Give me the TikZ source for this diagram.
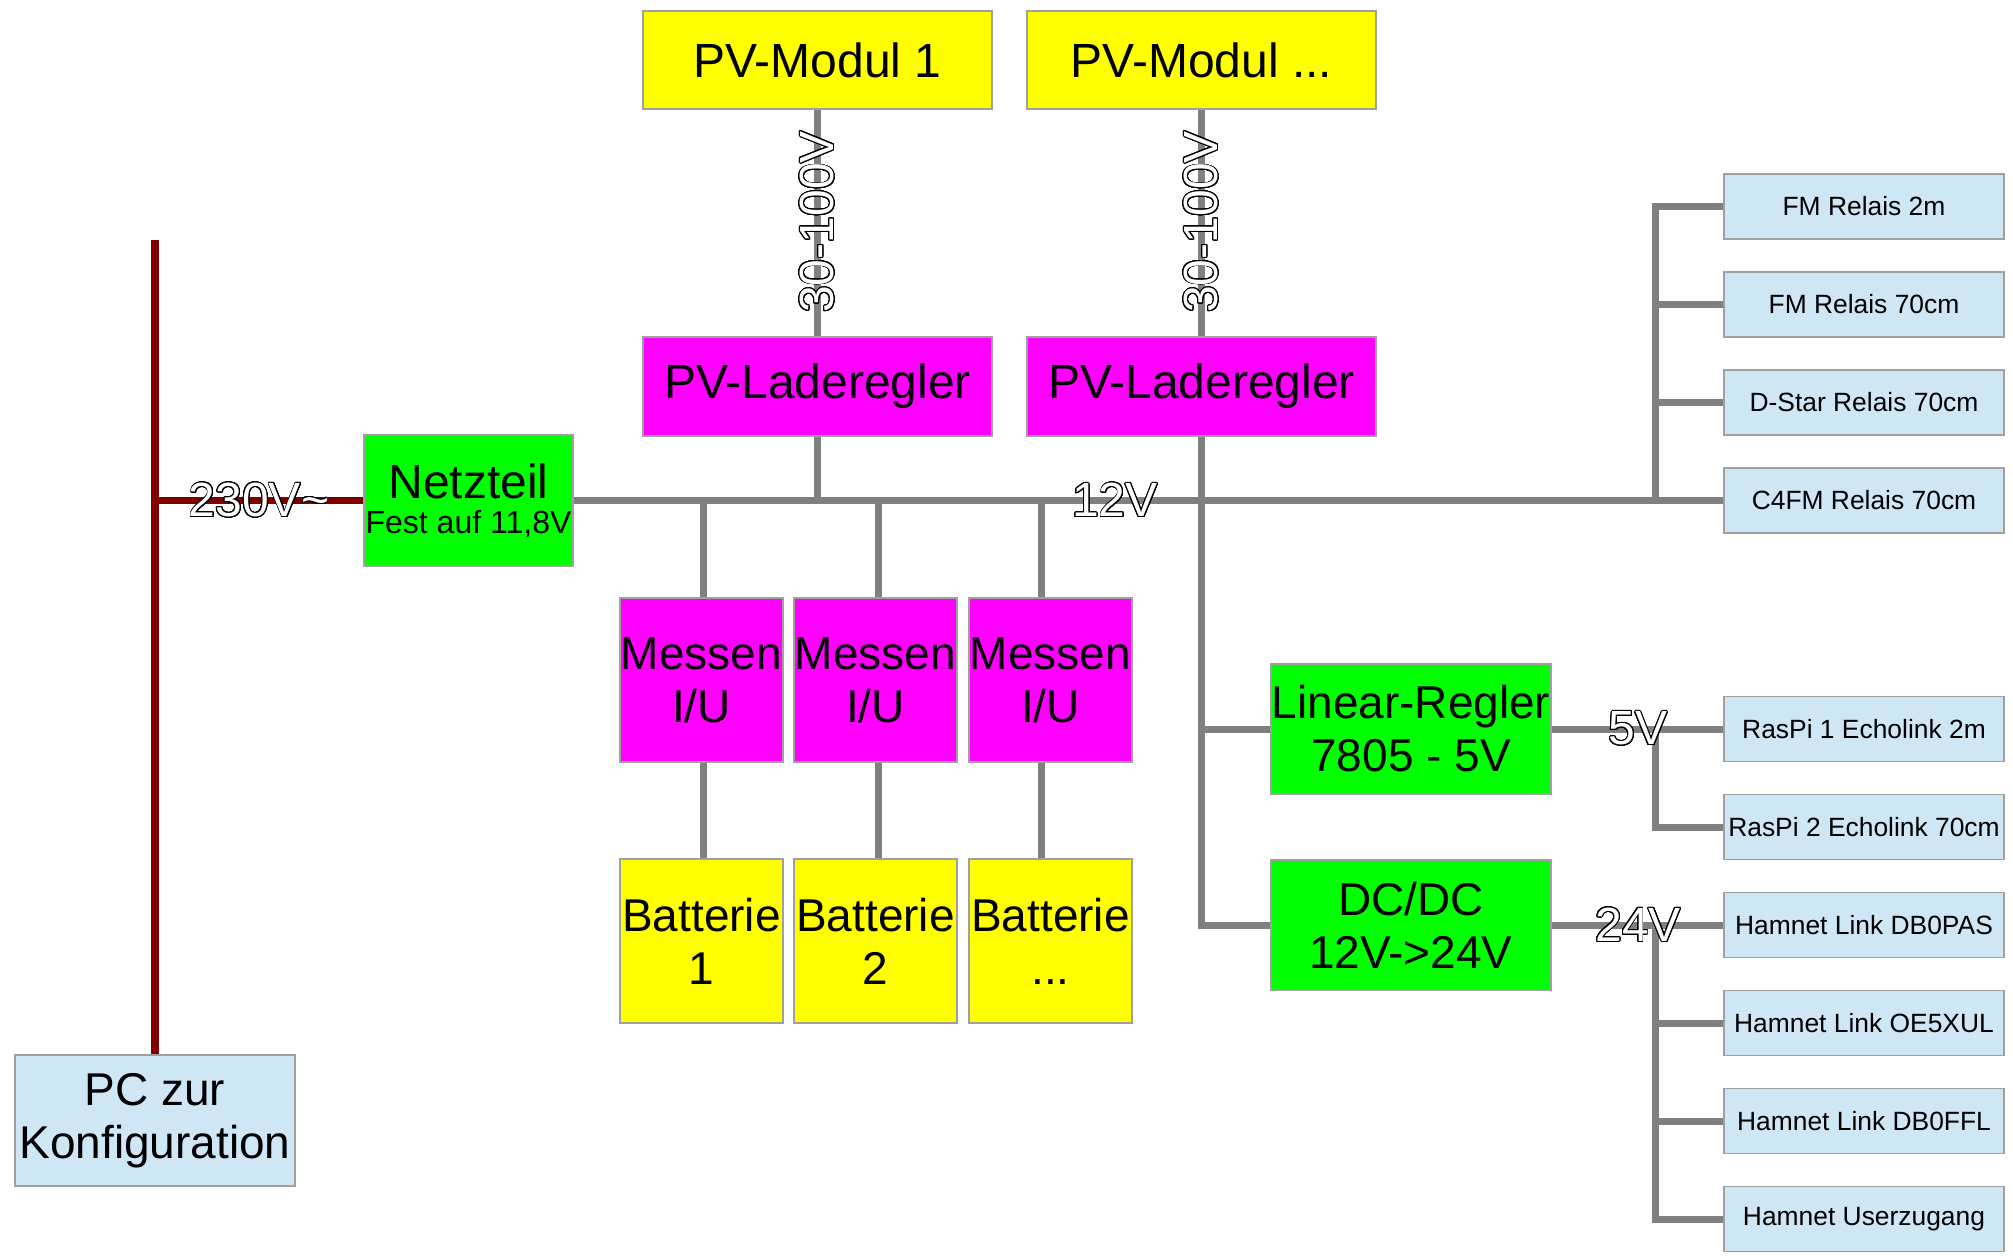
\documentclass[tikz,border=0pt]{standalone}
\usepackage{fontspec}
\setmainfont{Liberation Sans}
\usepackage{contour}
\contourlength{0.45pt}
\contournumber{32}
\usetikzlibrary{positioning,calc}
\definecolor{boxgray}{RGB}{160,160,160}
\definecolor{wiregray}{RGB}{128,128,128}
\definecolor{acred}{RGB}{128,0,0}
\definecolor{loadblue}{RGB}{207,231,245}
\definecolor{pvyellow}{RGB}{255,255,0}
\definecolor{ladepink}{RGB}{255,0,255}
\definecolor{netzgreen}{RGB}{0,255,0}
\newcommand{\hollow}[1]{{\color{white}\contour{black}{#1}}}
\newcommand{\bdots}{...}

\begin{document}
\begin{tikzpicture}[x=0.5pt,y=-0.5pt,
    blk/.style={rectangle,draw=boxgray,line width=0.6pt,inner sep=0pt,align=center,font=\fontsize{24}{26.5}\selectfont},
    narrow/.style={font=\fontsize{23}{26.5}\selectfont},
    pv/.style={blk,fill=pvyellow,minimum width=174.5pt,minimum height=49pt},
    lade/.style={blk,fill=ladepink,minimum width=174.5pt,minimum height=49.5pt},
    mess/.style={blk,narrow,fill=ladepink,minimum width=81.5pt,minimum height=82pt},
    batt/.style={blk,narrow,fill=pvyellow,minimum width=81.5pt,minimum height=82pt},
    wandler/.style={blk,narrow,fill=netzgreen,minimum width=140pt,minimum height=65pt},
    load/.style={blk,fill=loadblue,minimum width=140pt,minimum height=32.5pt,font=\fontsize{13.2}{15}\selectfont},
    wire/.style={wiregray,line width=3.5pt},
    acwire/.style={acred,line width=3.75pt},
    volt/.style={inner sep=0pt,font=\fontsize{24}{24}\selectfont}]
  \useasboundingbox (0,0) rectangle (2013,1256);
  % PV side
  \node[pv] (PVM1) at (817.5,60) {PV-Modul 1};
  \node[pv] (PVM2) at (1201.5,60) {PV-Modul \bdots};
  \node[lade] (PVL1) at (817.5,386.5) {PV-Laderegler};
  \node[lade] (PVL2) at (1201.5,386.5) {PV-Laderegler};
  \node[blk,fill=netzgreen,minimum width=104.5pt,minimum height=65.5pt] (NT) at (468.5,500.5)
    {Netzteil\\[-9pt]{\fontsize{16}{18}\selectfont Fest auf 11,8V}};
  \node[blk,narrow,fill=loadblue,minimum width=140pt,minimum height=65.5pt] (PC) at (155,1120.5) {PC zur\\Konfiguration};
  \node[wandler] (LR) at (1411,729) {Linear-Regler\\7805 - 5V};
  \node[wandler] (DC) at (1411,925) {DC/DC\\12V->24V};
  % loads
  \foreach \i/\y/\txt in {1/206.5/FM Relais 2m,2/304.5/FM Relais 70cm,3/402.5/D-Star Relais 70cm,
                          4/500.5/C4FM Relais 70cm,5/729/RasPi 1 Echolink 2m,6/827/RasPi 2 Echolink 70cm,
                          7/925/Hamnet Link DB0PAS,8/1023/Hamnet Link OE5XUL,9/1121/Hamnet Link DB0FFL,
                          10/1219/Hamnet Userzugang}
    \node[load] (L\i) at (1864,\y) {\txt};
  \coordinate (rbus) at (1655,500.5);
  \coordinate (actop) at (155,240);
  % 230V
  \draw[acwire] (actop) -- (PC.north);
  \draw[acwire] (actop |- NT.west) -- (NT.west);
  % 12V bus
  \draw[wire] (PVM1) -- (PVL1);
  \draw[wire] (PVM2) -- (PVL2);
  \draw[wire] (NT.east) -- (L4.west);
  \draw[wire] (PVL1.south) -- (PVL1.south |- NT.east);
  \draw[wire] (PVL2.south) |- (DC.west);
  \draw[wire] (PVL2.south |- LR.west) -- (LR.west);
  \foreach \i/\x/\bat/\d in {1/701.5/1/1,2/875.5/2/1.5,3/1050.5/\bdots/-4.75} {
    \node[mess] (M\i) at (\x,680) {Messen\\I/U};
    \node[batt] (B\i) at (\x,941) {Batterie\\\bat};
    \draw[wire] ([xshift=\d pt]M\i.north |- NT.east) -- ([xshift=\d pt]M\i.north);
    \draw[wire] ([xshift=\d pt]M\i.south) -- ([xshift=\d pt]B\i.north);
  }
  \draw[wire] (L1.west) -- (L1.west -| rbus) -- (rbus);
  \draw[wire] (L2.west) -- (L2.west -| rbus);
  \draw[wire] (L3.west) -- (L3.west -| rbus);
  % 5V and 24V
  \draw[wire] (LR.east) -- (L5.west);
  \draw[wire] (L5.west -| rbus) |- (L6.west);
  \draw[wire] (DC.east) -- (L7.west);
  \draw[wire] (L7.west -| rbus) |- (L10.west);
  \draw[wire] (L8.west -| rbus) -- (L8.west);
  \draw[wire] (L9.west -| rbus) -- (L9.west);
  % voltage labels
  \node[volt] (u230) at (259,500.5) {\hollow{230V\textasciitilde}};
  \node[volt] (u12) at (1115,500.5) {\hollow{12V}};
  \node[volt] (u5) at (1638,729) {\hollow{5V}};
  \node[volt] (u24) at (1638,925) {\hollow{24V}};
  \node[volt,rotate=90] (upv1) at (817.5,222) {\hollow{30-100V}};
  \node[volt,rotate=90] (upv2) at (1201.5,222) {\hollow{30-100V}};
\end{tikzpicture}
\end{document}
